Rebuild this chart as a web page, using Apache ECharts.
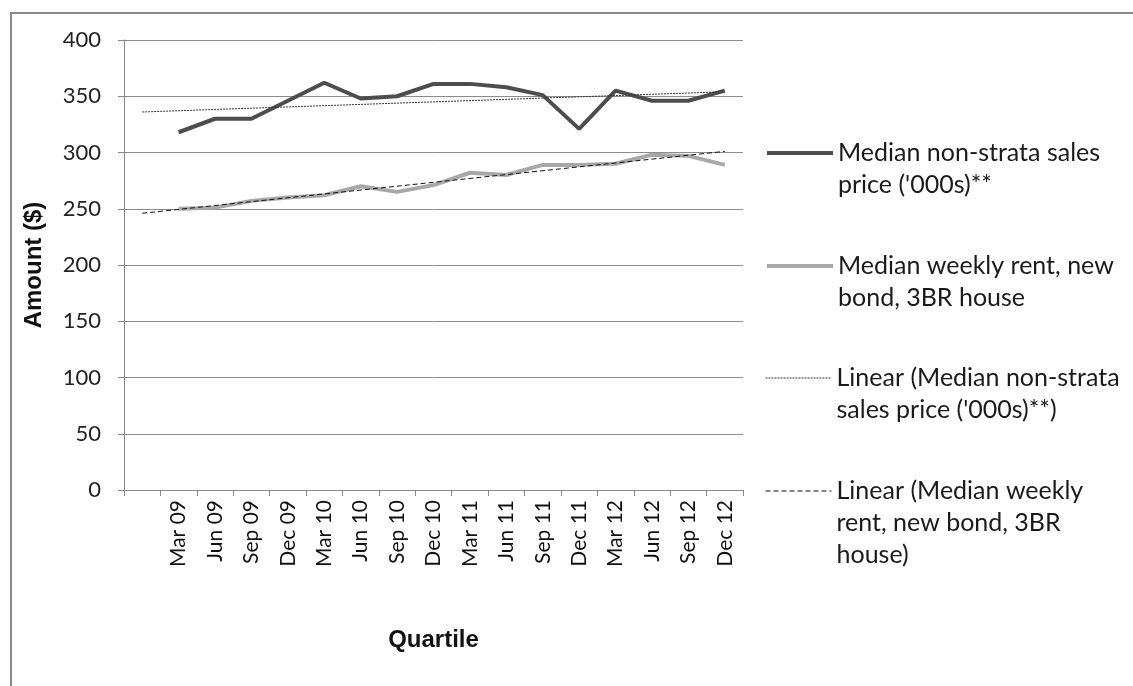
<!DOCTYPE html>
<html>
<head>
<meta charset="utf-8">
<title>Median sales price and weekly rent</title>
<script src="https://cdn.jsdelivr.net/npm/echarts@6/dist/echarts.min.js"></script>
<style>
  html, body { margin: 0; padding: 0; background: #fff; }
  #chart { width: 1133px; height: 686px; }
</style>
</head>
<body>
<div id="chart"></div>
<script>
// categories (first slot is blank, like the original sheet)
var quarters = ['', 'Mar 09', 'Jun 09', 'Sep 09', 'Dec 09', 'Mar 10', 'Jun 10', 'Sep 10', 'Dec 10',
  'Mar 11', 'Jun 11', 'Sep 11', 'Dec 11', 'Mar 12', 'Jun 12', 'Sep 12', 'Dec 12'];

// median non-strata sales price ('000s)
var salesPrice = [null, 318, 330, 330, 346, 362, 348, 350, 361, 361, 358, 351, 321, 355, 346, 346, 355];
// median weekly rent, new bond, 3BR house
var weeklyRent = [null, 250, 251, 257, 260, 262, 270, 265, 271, 282, 280, 289, 289, 290, 298, 297, 289];

// trend line ends (first and last category)
var priceTrendEnds = [336, 354];
var rentTrendEnds = [246, 301];

var yTicks = [0, 400, 50]; // min, max, step

var names = [
  "Median non-strata sales\nprice ('000s)**",
  "Median weekly rent, new\nbond, 3BR house",
  "Linear (Median non-strata\nsales price ('000s)**)",
  "Linear (Median weekly\nrent, new bond, 3BR\nhouse)"
];
var lineW = [4, 4, 1, 1];

function trendData(ends) {
  var arr = quarters.map(function () { return null; });
  arr[0] = ends[0];
  arr[arr.length - 1] = ends[1];
  return arr;
}

var labelFont = 'Lato, "Open Sans", sans-serif';
var titleFont = '"Liberation Sans", Arial, sans-serif';

// one legend per entry so spacing matches the original
var legendTops = [153, 266, 378, 491];
var legends = names.map(function (n, i) {
  var lines = n.split('\n').length;
  return {
    data: [n],
    orient: 'vertical',
    left: 765,
    top: legendTops[i] - (2 * lines - 1) * 16,
    padding: 0,
    itemWidth: 66,
    itemHeight: 14,
    itemGap: 0,
    selectedMode: false,
    itemStyle: { opacity: 0 },
    lineStyle: { width: lineW[i] },
    formatter: function (name) {
      return new Array(lines).join('\n') + name;
    },
    textStyle: { fontFamily: labelFont, fontSize: 25, color: '#1a1a1a', lineHeight: 32 }
  };
});

var chart = echarts.init(document.getElementById('chart'));
chart.setOption({
  backgroundColor: '#fff',
  animation: false,
  graphic: [{
    type: 'polyline',
    shape: { points: [[11, 700], [11, 13], [1140, 13]] },
    style: { stroke: '#8a8a8a', lineWidth: 2, fill: null }
  }],
  legend: legends,
  grid: { left: 124, right: 390, top: 40, bottom: 196 },
  xAxis: {
    type: 'category',
    data: quarters,
    boundaryGap: true,
    name: 'Quartile',
    nameLocation: 'middle',
    nameGap: 138,
    nameTextStyle: { fontFamily: titleFont, fontWeight: 'bold', fontSize: 24, color: '#111' },
    axisLine: { lineStyle: { color: '#888', width: 1 } },
    axisTick: { show: true, interval: 0, length: 6, lineStyle: { color: '#888' } },
    axisLabel: { interval: 0, rotate: 90, margin: 10, fontFamily: labelFont, fontSize: 21, color: '#111' },
    splitLine: { show: false }
  },
  yAxis: {
    type: 'value',
    min: yTicks[0],
    max: yTicks[1],
    interval: yTicks[2],
    name: 'Amount ($)',
    nameLocation: 'middle',
    nameGap: 78,
    nameTextStyle: { fontFamily: titleFont, fontWeight: 'bold', fontSize: 24, color: '#111' },
    axisLine: { show: true, lineStyle: { color: '#888', width: 1 } },
    axisTick: { show: true, length: 6, lineStyle: { color: '#888' } },
    axisLabel: { margin: 23, fontFamily: labelFont, fontSize: 22, color: '#222' },
    splitLine: { show: true, lineStyle: { color: '#8c8c8c', width: 1 } }
  },
  series: [{
    name: names[0],
    type: 'line',
    data: salesPrice,
    symbol: 'none',
    lineStyle: { color: '#4d4d4d', width: 4 },
    itemStyle: { color: '#4d4d4d' },
    z: 3
  }, {
    name: names[1],
    type: 'line',
    data: weeklyRent,
    symbol: 'none',
    lineStyle: { color: '#a8a8a8', width: 4 },
    itemStyle: { color: '#a8a8a8' },
    z: 3
  }, {
    name: names[2],
    type: 'line',
    data: trendData(priceTrendEnds),
    connectNulls: true,
    symbol: 'none',
    lineStyle: { color: '#333', width: 1, type: [2, 1] },
    itemStyle: { color: '#333' },
    z: 4
  }, {
    name: names[3],
    type: 'line',
    data: trendData(rentTrendEnds),
    connectNulls: true,
    symbol: 'none',
    lineStyle: { color: '#111', width: 1, type: [5, 3] },
    itemStyle: { color: '#111' },
    z: 4
  }]
});
</script>
</body>
</html>
